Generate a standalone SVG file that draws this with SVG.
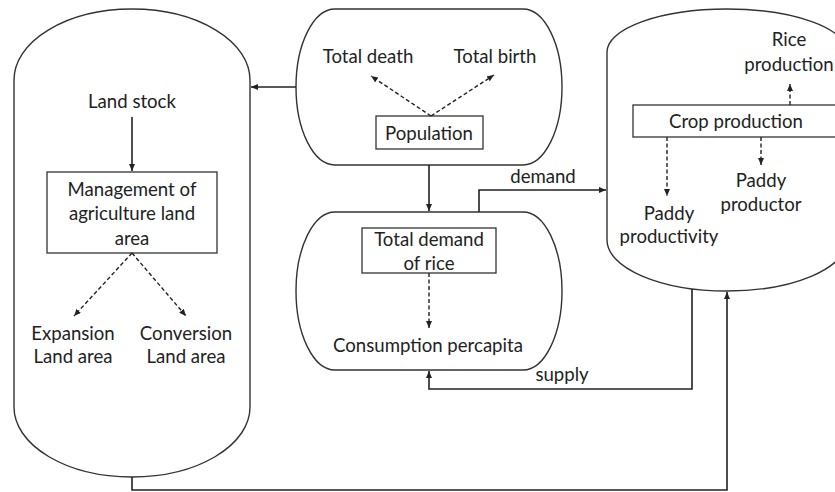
<svg xmlns="http://www.w3.org/2000/svg" width="835" height="492" viewBox="0 0 835 492">
  <style>
    .shape { fill: #ffffff; stroke: #333333; stroke-width: 1.4; }
    .box { fill: #ffffff; stroke: #333333; stroke-width: 1.3; }
    .link { fill: none; stroke: #222222; stroke-width: 1.6; }
    .dash { fill: none; stroke: #222222; stroke-width: 1.4; stroke-dasharray: 4 2.5; }
    text { font-family: Lato, "Liberation Sans", sans-serif; font-size: 18.6px; fill: #222222; text-anchor: middle; }
  </style>
  <defs>
    <marker id="head" markerUnits="userSpaceOnUse" markerWidth="8" markerHeight="8" refX="7" refY="3" orient="auto">
      <path d="M0,0 L7,3 L0,6 Z" fill="#222222"/>
    </marker>
  </defs>

  <rect width="835" height="492" fill="#ffffff"/>

  <!-- land sector -->
  <g id="land">
    <path class="shape" d="M14,80 A118,71 0 0 1 250,80 L250,407 A118,70 0 0 1 14,407 Z"/>
    <text x="132" y="108">Land stock</text>
    <rect class="box" x="47" y="172" width="170" height="81"/>
    <text x="132" y="196">Management of</text>
    <text x="132" y="220">agriculture land</text>
    <text x="132" y="245">area</text>
    <text x="73" y="340">Expansion</text>
    <text x="73" y="363">Land area</text>
    <text x="186" y="340">Conversion</text>
    <text x="186" y="363">Land area</text>
  </g>

  <!-- population sector -->
  <g id="population">
    <path class="shape" d="M335,9 L523,9 A39,78 0 0 1 523,165 L335,165 A39,78 0 0 1 335,9 Z"/>
    <text x="368" y="63">Total death</text>
    <text x="495" y="63">Total birth</text>
    <rect class="box" x="376" y="116" width="107" height="33"/>
    <text x="429" y="140">Population</text>
  </g>

  <!-- demand sector -->
  <g id="demand">
    <path class="shape" d="M335,212 L523,212 A39,79 0 0 1 523,370 L335,370 A39,79 0 0 1 335,212 Z"/>
    <rect class="box" x="362" y="228" width="134" height="45"/>
    <text x="429" y="246">Total demand</text>
    <text x="429" y="270">of rice</text>
    <text x="428" y="352">Consumption percapita</text>
  </g>

  <!-- production sector -->
  <g id="production">
    <path class="shape" d="M607,52 A120,43 0 0 1 847,52 L847,240 A120,51 0 0 1 607,240 Z"/>
    <text x="789" y="46">Rice</text>
    <text x="789" y="71">production</text>
    <rect class="box" x="633" y="105" width="215" height="32"/>
    <text x="736" y="128">Crop production</text>
    <text x="761" y="187">Paddy</text>
    <text x="761" y="211">productor</text>
    <text x="669" y="220">Paddy</text>
    <text x="669" y="243">productivity</text>
  </g>

  <!-- connectors -->
  <g id="connectors">
    <path class="link" d="M296,87 L251,87" marker-end="url(#head)"/>
    <path class="link" d="M429,165 L429,211" marker-end="url(#head)"/>
    <path class="link" d="M479,212 L479,190 L606,190" marker-end="url(#head)"/>
    <path class="link" d="M692,289 L692,389 L429,389 L429,371" marker-end="url(#head)"/>
    <path class="link" d="M132,477 L132,490 L727,490 L727,292" marker-end="url(#head)"/>
    <path class="link" d="M132,117 L132,171" marker-end="url(#head)"/>

    <path class="dash" d="M431,116 L371,76" marker-end="url(#head)"/>
    <path class="dash" d="M431,116 L494,75" marker-end="url(#head)"/>
    <path class="dash" d="M132,253 L74,316" marker-end="url(#head)"/>
    <path class="dash" d="M132,253 L186,316" marker-end="url(#head)"/>
    <path class="dash" d="M429,273 L429,328" marker-end="url(#head)"/>
    <path class="dash" d="M790,105 L790,84" marker-end="url(#head)"/>
    <path class="dash" d="M761,137 L761,165" marker-end="url(#head)"/>
    <path class="dash" d="M667,137 L667,196" marker-end="url(#head)"/>

    <text x="543" y="183">demand</text>
    <text x="562" y="381">supply</text>
  </g>
</svg>
